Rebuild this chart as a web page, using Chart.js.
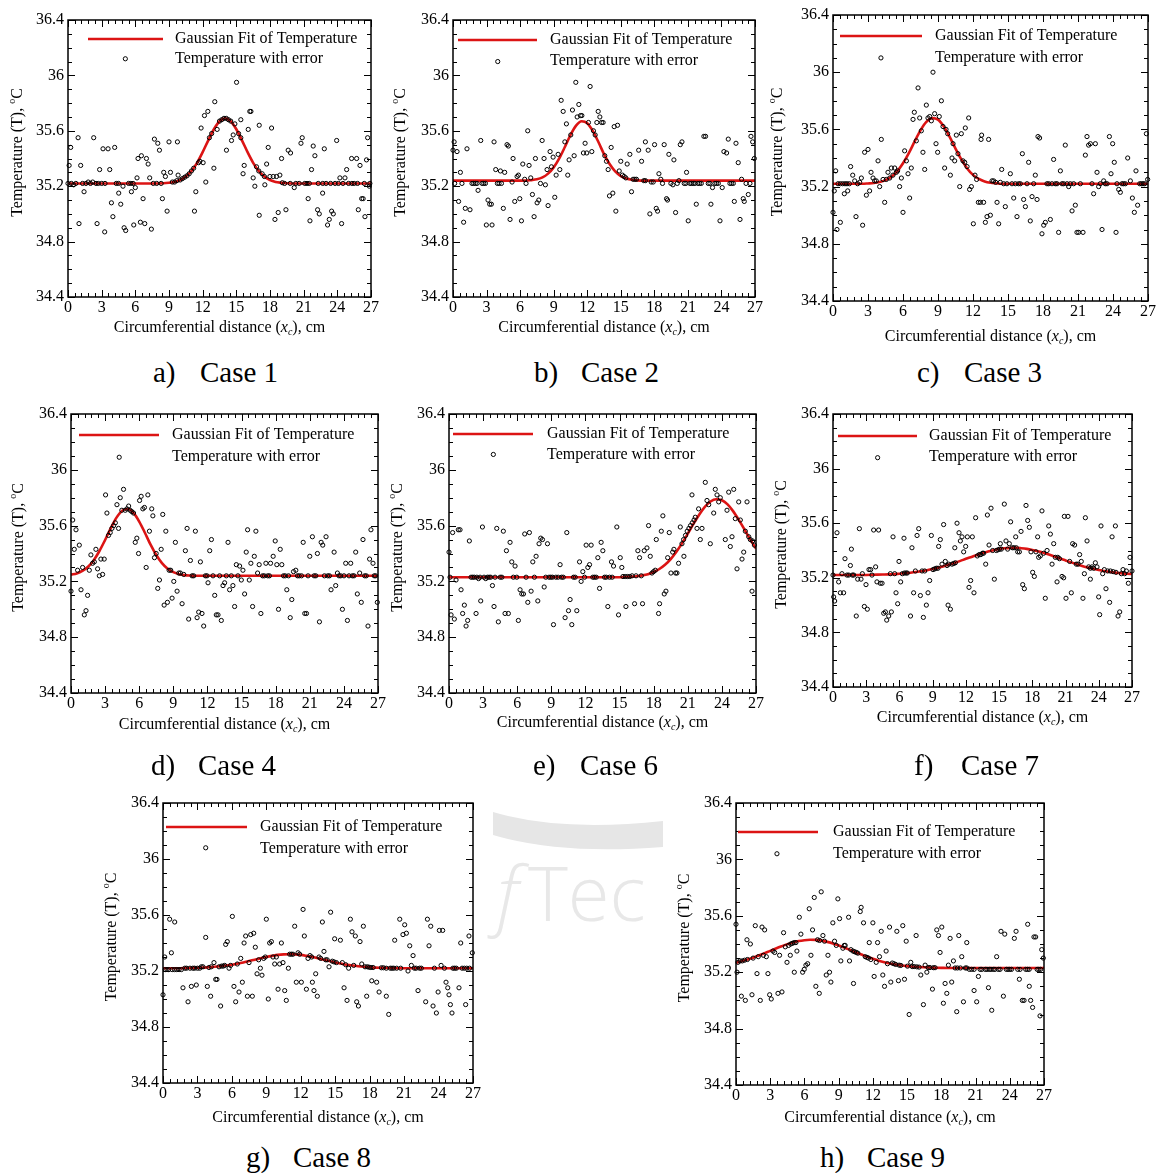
<!DOCTYPE html>
<html>
<head>
<meta charset="utf-8">
<title>Gaussian fit of temperature — cases 1 to 9</title>
<script src="https://cdn.jsdelivr.net/npm/chart.js@4/dist/chart.umd.min.js"></script>
<style>
  html, body { margin: 0; padding: 0; background: #fff; }
  body { width: 1159px; height: 1173px; position: relative; overflow: hidden; font-family: "Liberation Serif", "Times New Roman", serif; }
  canvas { position: absolute; }
  .cap { position: absolute; font-size: 29px; line-height: 36px; white-space: nowrap; color: #000; }
  .cap span { display: inline-block; width: 47px; }
  .wm { position: absolute; left: 0; top: 0; }
</style>
</head>
<body>
<svg class="wm" width="1159" height="1173">
  <path d="M493,812 Q560,832 663,821 L663,847 Q560,855 493,835 Z" fill="#e6e6e6"/>
  <text x="497" y="921" font-family="Open Sans, DejaVu Sans, sans-serif" font-size="76" font-weight="300" fill="#e8e8e8" font-style="italic">f</text>
  <text x="528" y="921" font-family="Open Sans, DejaVu Sans, sans-serif" font-size="76" font-weight="300" fill="#e8e8e8">Tec</text>
  <rect x="663" y="790" width="40" height="160" fill="#fff"/>
</svg>

<script>
// x positions at which the Gaussian fit is tabulated (cm)
const fitX = [0,0.5,1,1.5,2,2.5,3,3.5,4,4.5,5,5.5,6,6.5,7,7.5,8,8.5,9,9.5,10,10.5,11,11.5,12,12.5,13,13.5,14,14.5,15,15.5,16,16.5,17,17.5,18,18.5,19,19.5,20,20.5,21,21.5,22,22.5,23,23.5,24,24.5,25,25.5,26,26.5,27];

// tick labels
const xTicks = [0,3,6,9,12,15,18,21,24,27];
const yTicks = [34.4,34.8,35.2,35.6,36,36.4];

const legendLabels = ['Gaussian Fit of Temperature', 'Temperature with error'];
const captions = ['Case 1','Case 2','Case 3','Case 4','Case 6','Case 7','Case 8','Case 9'];
const captionLetters = ['a)','b)','c)','d)','e)','f)','g)','h)'];

// ---- Case 1 ----
const case1Fit = [35.22,35.22,35.22,35.22,35.22,35.22,35.22,35.22,35.22,35.22,35.22,35.22,35.22,35.22,35.22,35.22,35.22,35.221,35.225,35.231,35.245,35.27,35.31,35.369,35.446,35.531,35.611,35.669,35.69,35.669,35.611,35.531,35.446,35.369,35.31,35.27,35.245,35.231,35.225,35.221,35.22,35.22,35.22,35.22,35.22,35.22,35.22,35.22,35.22,35.22,35.22,35.22,35.22,35.22,35.22];
const case1Points = [[0.1,35.35],[0.24,35.48],[0.9,35.55],[0.98,34.93],[1.13,35.35],[1.43,35.16],[2.29,35.55],[2.59,34.93],[2.82,35.32],[3.12,35.47],[3.27,34.87],[3.57,35.47],[3.72,35.32],[3.87,35.08],[4.0,34.98],[4.16,35.48],[4.52,35.15],[4.7,35.07],[4.9,35.2],[5.0,34.9],[5.11,36.12],[5.14,34.88],[5.65,35.16],[5.86,34.92],[6.0,35.19],[6.15,35.26],[6.24,35.40],[6.45,34.94],[6.54,35.42],[6.69,35.11],[6.84,34.93],[6.99,35.40],[7.14,35.36],[7.28,35.26],[7.43,34.89],[7.7,35.54],[8.0,35.51],[8.15,35.46],[8.41,35.11],[8.53,35.30],[8.68,35.27],[8.83,35.02],[9.0,35.52],[9.13,35.30],[9.75,35.52],[9.81,35.28],[11.27,35.02],[11.39,35.16],[11.63,35.37],[11.75,35.38],[11.86,35.62],[12.04,35.37],[12.16,35.71],[12.28,35.23],[12.46,35.74],[13.0,35.33],[13.08,35.81],[13.29,35.61],[14.12,35.46],[14.57,35.53],[14.72,35.57],[14.87,35.65],[15.02,35.95],[15.4,35.68],[15.6,35.29],[15.7,35.35],[16.06,35.61],[16.2,35.74],[16.3,35.74],[16.5,35.26],[16.65,35.2],[17.04,34.99],[17.04,35.64],[17.54,35.21],[17.7,35.36],[17.84,35.48],[17.99,35.27],[18.14,35.62],[18.29,35.27],[18.44,34.96],[18.58,35.27],[18.73,35.01],[18.88,35.28],[19.03,35.40],[19.42,35.03],[19.62,35.46],[19.83,35.44],[20.16,35.19],[20.76,35.51],[20.87,35.55],[21.4,35.11],[21.56,34.95],[21.7,35.32],[21.85,35.49],[22.0,35.42],[22.24,35.03],[22.39,35.0],[22.69,35.15],[22.84,35.47],[23.13,34.92],[23.28,34.96],[23.49,35.02],[23.64,35.0],[23.94,35.53],[24.23,35.26],[24.38,34.93],[24.68,35.26],[24.83,35.32],[25.27,35.40],[25.72,35.40],[25.87,35.03],[26.02,35.35],[26.17,35.11],[26.3,35.11],[26.46,34.98],[26.6,35.39],[26.7,35.55],[26.85,35.2],
  [0.0,35.22],[0.3,35.22],[0.5,35.21],[0.7,35.22],[1.3,35.22],[1.6,35.22],[1.8,35.23],[2.0,35.22],[2.2,35.23],[2.5,35.22],[2.7,35.22],[3.0,35.22],[3.3,35.22],[4.3,35.22],[4.5,35.22],[5.4,35.22],[5.6,35.22],[5.8,35.22],[7.6,35.22],[7.9,35.22],[8.3,35.22],[9.3,35.23],[9.5,35.23],[9.7,35.24],[10.0,35.245],[10.2,35.255],[10.4,35.265],[10.6,35.275],[10.8,35.29],[11.0,35.31],[11.2,35.33],[12.6,35.55],[12.8,35.58],[13.5,35.67],[13.7,35.68],[13.9,35.69],[14.1,35.69],[14.3,35.68],[14.5,35.67],[15.2,35.58],[15.4,35.55],[16.8,35.34],[17.0,35.31],[17.3,35.29],[17.5,35.27],[19.1,35.225],[19.3,35.22],[19.8,35.22],[20.3,35.22],[20.6,35.22],[21.1,35.22],[21.3,35.22],[21.5,35.22],[22.3,35.22],[22.7,35.22],[23.0,35.22],[23.4,35.22],[23.8,35.22],[24.1,35.22],[24.5,35.22],[25.0,35.22],[25.3,35.22],[25.5,35.22],[25.8,35.22],[26.4,35.22],[26.9,35.22]];

// ---- Case 2 ----
const case2Fit = [35.24,35.24,35.24,35.24,35.24,35.24,35.24,35.24,35.24,35.24,35.24,35.24,35.24,35.24,35.244,35.25,35.264,35.291,35.336,35.401,35.483,35.569,35.637,35.669,35.655,35.599,35.519,35.432,35.36,35.307,35.273,35.255,35.246,35.242,35.24,35.24,35.24,35.24,35.24,35.24,35.24,35.24,35.24,35.24,35.24,35.24,35.24,35.24,35.24,35.24,35.24,35.24,35.24,35.24,35.24];
const case2Points = [[0,35.46],[0.1,35.52],[0.15,35.22],[0.36,35.45],[0.5,35.09],[0.66,35.3],[0.8,35.22],[0.95,34.94],[1.1,35.04],[1.25,35.47],[1.52,35.03],[1.7,35.22],[1.85,35.22],[2.0,35.22],[2.15,35.22],[2.24,35.17],[2.48,35.53],[2.6,35.22],[2.75,35.22],[2.9,35.22],[2.98,34.92],[3.13,35.1],[3.28,35.07],[3.43,35.07],[3.49,34.92],[3.67,35.52],[3.82,35.32],[3.97,35.22],[4.12,35.22],[4.33,35.22],[4.0,36.1],[4.24,35.31],[4.5,35.04],[4.62,35.3],[4.83,35.5],[4.95,35.49],[5.1,34.96],[5.28,35.23],[5.37,35.4],[5.52,35.09],[5.73,35.27],[5.85,35.28],[5.97,35.11],[6.12,34.95],[6.24,35.36],[6.41,35.25],[6.53,35.22],[6.68,35.6],[6.8,35.35],[6.95,35.26],[7.1,35.14],[7.25,34.98],[7.37,35.4],[7.52,35.08],[7.67,35.1],[7.82,35.22],[7.97,35.53],[8.14,35.4],[8.26,35.21],[8.41,35.32],[8.5,35.06],[8.68,35.45],[8.8,35.34],[8.95,35.41],[9.1,35.12],[9.22,35.28],[9.4,35.43],[9.55,35.32],[9.67,35.82],[9.85,35.74],[10.0,35.52],[10.14,35.65],[10.26,35.28],[10.38,35.39],[10.53,35.57],[10.68,35.75],[10.83,35.42],[10.98,35.95],[11.1,35.7],[11.25,35.79],[11.4,35.71],[11.52,35.71],[11.66,35.44],[11.81,35.51],[11.96,35.44],[12.11,35.66],[12.26,35.92],[12.41,35.45],[12.56,35.6],[12.71,35.57],[12.86,35.66],[12.98,35.74],[13.13,35.7],[13.28,35.66],[13.42,35.66],[13.57,35.42],[13.72,35.38],[13.87,35.32],[13.99,35.13],[14.14,35.48],[14.29,35.15],[14.41,35.63],[14.56,35.02],[14.71,35.64],[14.86,35.31],[15.0,35.38],[15.15,35.28],[15.3,35.27],[15.45,35.26],[15.57,35.36],[15.81,35.43],[15.96,35.16],[16.1,35.25],[16.26,35.25],[16.4,35.25],[16.6,35.46],[16.86,35.38],[17.06,35.24],[17.2,35.24],[17.2,35.52],[17.45,35.46],[17.6,35.0],[17.72,35.23],[17.9,35.23],[18.02,35.5],[18.17,35.04],[18.29,35.02],[18.41,35.29],[18.58,35.25],[18.73,35.22],[18.88,35.5],[19.09,35.11],[19.18,35.1],[19.3,35.43],[19.48,35.22],[19.66,35.21],[19.75,35.39],[19.9,35.01],[20.05,35.22],[20.2,35.24],[20.32,35.5],[20.47,35.52],[20.67,35.22],[20.82,35.22],[20.88,35.3],[21.03,34.95],[21.18,35.22],[21.33,35.22],[21.48,35.22],[21.62,35.22],[21.75,35.07],[21.9,35.22],[22.05,35.22],[22.2,35.22],[22.43,35.56],[22.58,35.56],[22.82,35.22],[22.97,35.22],[23.06,35.07],[23.2,35.19],[23.42,35.22],[23.57,35.22],[23.72,35.22],[23.87,34.95],[24.07,35.19],[24.22,35.45],[24.46,35.44],[24.61,35.54],[24.76,35.22],[24.91,35.22],[25.06,35.22],[25.15,35.09],[25.3,35.51],[25.5,35.37],[25.66,34.96],[25.8,35.25],[25.95,35.11],[26.04,35.09],[26.2,35.22],[26.4,35.14],[26.55,35.22],[26.64,35.56],[26.79,35.52],[26.94,35.4]];

// ---- Case 3 ----
const case3Fit = [35.22,35.22,35.22,35.22,35.22,35.22,35.222,35.225,35.232,35.245,35.269,35.307,35.363,35.434,35.516,35.593,35.652,35.679,35.668,35.62,35.548,35.466,35.39,35.327,35.282,35.254,35.236,35.227,35.223,35.22,35.22,35.22,35.22,35.22,35.22,35.22,35.22,35.22,35.22,35.22,35.22,35.22,35.22,35.22,35.22,35.22,35.22,35.22,35.22,35.22,35.22,35.22,35.22,35.22,35.22];
const case3Points = [[0,35.02],[0.11,35.17],[0.23,35.31],[0.34,34.9],[0.43,35.22],[0.63,34.95],[0.63,35.22],[0.83,35.22],[1.03,35.22],[1.2,35.22],[1.4,35.22],[0.97,35.15],[1.26,35.17],[1.51,35.34],[1.69,35.28],[1.86,35.24],[1.97,34.99],[2.11,35.22],[2.29,35.23],[2.43,35.26],[2.54,34.93],[2.71,35.44],[2.86,35.14],[3.0,35.46],[3.14,35.17],[3.26,35.3],[3.43,35.26],[3.57,35.24],[3.71,35.24],[3.86,35.38],[4.0,35.2],[4.11,36.1],[4.14,35.53],[4.29,35.25],[4.43,35.09],[4.57,35.25],[4.71,35.3],[4.86,35.26],[5.0,35.33],[5.14,35.28],[5.29,35.33],[5.43,35.3],[5.54,35.31],[5.71,35.2],[5.86,35.26],[6.0,35.02],[6.14,35.45],[6.29,35.38],[6.43,35.29],[6.57,35.12],[6.71,35.33],[6.86,35.67],[6.97,35.72],[7.14,35.52],[7.29,35.89],[7.43,35.68],[7.57,35.59],[7.71,35.44],[7.86,35.32],[8.0,35.77],[8.14,35.68],[8.29,35.69],[8.43,35.66],[8.57,36.0],[8.71,35.71],[8.83,35.5],[8.97,35.44],[9.11,35.69],[9.29,35.8],[9.43,35.62],[9.57,35.33],[9.69,35.6],[9.83,35.57],[10.06,35.28],[10.2,35.4],[10.29,35.5],[10.43,35.38],[10.57,35.56],[10.71,35.43],[10.86,35.2],[11.0,35.57],[11.14,35.38],[11.29,35.37],[11.34,35.61],[11.49,35.34],[11.63,35.68],[11.71,35.18],[11.86,35.2],[12.03,34.94],[12.17,35.28],[12.31,35.25],[12.46,35.09],[12.63,35.09],[12.69,35.53],[12.74,35.56],[12.91,35.09],[13.06,34.95],[13.2,34.99],[13.34,35.53],[13.49,35.0],[13.63,35.24],[13.77,35.24],[13.94,35.23],[14.06,35.09],[14.2,34.94],[14.34,35.23],[14.46,35.32],[14.63,35.22],[14.77,35.06],[14.91,35.22],[15.2,35.29],[15.34,35.22],[15.49,35.12],[15.63,35.22],[15.77,34.99],[15.91,35.22],[16.06,35.22],[16.23,35.43],[16.34,35.11],[16.49,35.06],[16.63,35.22],[16.77,35.37],[16.91,34.96],[17.06,35.13],[17.2,35.22],[17.34,35.28],[17.49,35.11],[17.57,35.55],[17.71,35.54],[17.91,34.87],[18.06,34.93],[18.2,34.95],[18.34,35.22],[18.49,35.22],[18.63,34.97],[18.77,35.22],[18.91,35.39],[19.06,35.22],[19.2,35.22],[19.34,34.88],[19.49,35.31],[19.63,35.22],[19.77,35.22],[19.91,35.49],[20.06,35.22],[20.2,35.2],[20.34,35.22],[20.49,35.03],[20.63,35.22],[20.77,35.07],[20.91,34.88],[21.06,34.88],[21.2,35.22],[21.43,34.88],[21.63,35.42],[21.77,35.55],[21.91,35.49],[22.06,35.5],[22.2,35.22],[22.34,35.15],[22.49,35.5],[22.63,35.3],[22.77,35.2],[22.91,35.22],[23.06,34.9],[23.2,35.24],[23.34,35.22],[23.49,35.22],[23.69,35.55],[23.83,35.29],[23.97,35.5],[24.11,35.37],[24.26,34.88],[24.34,35.22],[24.49,35.18],[24.63,35.16],[24.77,35.22],[24.91,35.22],[25.06,35.22],[25.26,35.4],[25.49,35.24],[25.66,35.12],[25.83,35.02],[25.97,35.31],[26.11,35.07],[26.29,35.22],[26.43,35.22],[26.57,35.22],[26.71,35.22],[26.86,35.57],[26.97,35.25]];

// ---- Case 4 ----
const case4Fit = [35.248,35.257,35.275,35.305,35.352,35.418,35.497,35.582,35.657,35.707,35.719,35.691,35.629,35.549,35.463,35.389,35.331,35.291,35.266,35.252,35.245,35.242,35.24,35.24,35.24,35.24,35.24,35.24,35.24,35.24,35.24,35.24,35.24,35.24,35.24,35.24,35.24,35.24,35.24,35.24,35.24,35.24,35.24,35.24,35.24,35.24,35.24,35.24,35.24,35.24,35.24,35.24,35.24,35.24,35.24];
const case4Points = [[0,35.13],[0.15,35.64],[0.29,35.43],[0.44,35.57],[0.58,35.28],[0.73,35.46],[0.88,35.14],[1.02,35.3],[1.17,34.96],[1.32,34.99],[1.46,35.1],[1.61,35.28],[1.75,35.39],[1.9,35.33],[2.05,35.34],[2.19,35.43],[2.34,35.29],[2.49,35.24],[2.63,35.36],[2.78,35.25],[2.92,35.36],[3.04,35.82],[3.16,35.69],[3.3,35.53],[3.45,35.55],[3.6,35.58],[3.75,35.6],[3.9,35.62],[4.04,35.75],[4.18,35.58],[4.24,36.09],[4.33,35.8],[4.47,35.71],[4.62,35.86],[4.77,35.71],[4.92,35.72],[5.07,35.74],[5.2,35.71],[5.35,35.7],[5.5,35.69],[5.65,35.48],[5.79,35.51],[5.94,35.4],[6.03,35.78],[6.17,35.81],[6.32,35.72],[6.46,35.73],[6.61,35.3],[6.76,35.82],[6.9,35.56],[7.1,35.72],[7.2,35.67],[7.34,35.37],[7.49,35.4],[7.63,35.15],[7.78,35.21],[7.93,35.43],[8.07,35.68],[8.19,35.03],[8.34,35.56],[8.48,35.05],[8.63,35.28],[8.77,35.28],[8.89,35.08],[9.04,35.2],[9.18,35.48],[9.33,35.13],[9.48,35.26],[9.62,35.26],[9.77,35.04],[9.92,35.25],[10.06,35.42],[10.21,35.58],[10.35,34.93],[10.5,35.35],[10.65,35.24],[10.79,35.24],[10.94,35.56],[11.09,34.94],[11.23,34.98],[11.38,35.34],[11.52,34.97],[11.67,34.88],[11.82,35.24],[11.96,35.24],[12.05,35.19],[12.2,35.42],[12.35,35.5],[12.49,35.24],[12.64,35.1],[12.78,34.96],[12.93,34.96],[13.07,35.24],[13.22,34.92],[13.37,35.17],[13.51,35.19],[13.66,35.24],[13.81,35.48],[13.95,35.14],[14.1,35.24],[14.24,35.17],[14.39,35.02],[14.54,35.32],[14.68,35.24],[14.83,35.31],[14.98,35.21],[15.12,35.28],[15.27,35.11],[15.41,35.41],[15.53,35.57],[15.68,35.21],[15.82,35.33],[15.97,35.02],[16.12,35.38],[16.26,35.56],[16.41,35.26],[16.55,35.32],[16.7,34.97],[16.85,35.24],[17.0,35.24],[17.14,35.33],[17.3,35.24],[17.45,35.24],[17.55,35.33],[17.78,35.38],[17.96,35.49],[18.1,35.32],[18.25,35.0],[18.4,35.43],[18.54,35.32],[18.69,35.24],[18.84,35.24],[18.98,35.14],[19.13,35.24],[19.28,34.94],[19.42,35.07],[19.57,35.27],[19.77,35.28],[19.92,35.24],[20.07,35.24],[20.27,35.24],[20.42,35.48],[20.56,34.97],[20.71,34.97],[20.85,35.24],[21.0,35.38],[21.23,35.52],[21.38,35.24],[21.53,35.24],[21.67,35.4],[21.85,34.91],[22.0,35.48],[22.14,35.46],[22.29,35.24],[22.43,35.52],[22.58,35.24],[22.73,35.24],[22.87,35.14],[23.14,35.41],[23.28,35.17],[23.43,35.26],[23.57,35.24],[23.72,35.24],[23.87,35.0],[24.01,35.24],[24.16,35.33],[24.31,34.92],[24.45,35.24],[24.6,35.33],[24.75,35.24],[24.89,35.24],[25.04,35.41],[25.18,35.11],[25.39,35.26],[25.53,35.05],[25.68,35.5],[25.83,35.24],[25.97,35.24],[26.12,34.88],[26.26,35.36],[26.38,35.57],[26.56,35.33],[26.67,35.24],[26.79,35.24],[26.94,35.05]];

// ---- Case 6 ----
const case6Fit = [35.23,35.23,35.23,35.23,35.23,35.23,35.23,35.23,35.23,35.23,35.23,35.23,35.23,35.23,35.23,35.23,35.23,35.23,35.23,35.23,35.23,35.23,35.23,35.23,35.23,35.23,35.23,35.23,35.23,35.23,35.23,35.232,35.234,35.237,35.243,35.252,35.267,35.289,35.319,35.36,35.412,35.474,35.542,35.612,35.678,35.734,35.773,35.789,35.782,35.752,35.702,35.639,35.57,35.5,35.435];
const case6Points = [[0,35.41],[0.09,35.23],[0.18,34.96],[0.32,35.55],[0.47,34.93],[0.62,35.21],[0.82,35.57],[0.97,35.57],[1.06,35.14],[1.2,34.97],[1.35,35.03],[1.5,34.88],[1.64,34.92],[1.79,35.49],[1.94,35.23],[2.09,35.23],[2.23,35.23],[2.38,34.97],[2.45,35.23],[2.6,35.22],[2.73,35.23],[2.79,35.06],[2.94,35.59],[3.08,35.23],[3.23,35.22],[3.38,35.23],[3.53,35.23],[3.67,35.23],[3.82,35.17],[3.9,36.11],[3.96,35.02],[4.05,35.23],[4.2,35.58],[4.34,34.91],[4.5,35.23],[4.65,35.23],[4.78,35.56],[4.93,34.97],[5.05,35.42],[5.22,34.97],[5.37,35.48],[5.52,35.34],[5.66,35.23],[5.81,35.31],[5.96,35.23],[6.1,34.92],[6.25,35.14],[6.4,35.11],[6.55,35.11],[6.66,35.54],[6.78,35.23],[6.93,35.05],[7.07,35.55],[7.22,35.13],[7.37,35.34],[7.51,35.23],[7.66,35.38],[7.81,35.06],[7.92,35.47],[8.07,35.51],[8.22,35.5],[8.37,35.16],[8.51,35.23],[8.66,35.47],[8.8,35.23],[8.95,35.23],[9.1,35.23],[9.19,34.89],[9.4,35.23],[9.6,35.23],[9.77,35.32],[9.9,35.23],[10.05,35.23],[10.21,34.94],[10.36,35.55],[10.51,34.99],[10.65,35.07],[10.8,34.89],[10.95,35.23],[11.1,35.23],[11.24,34.99],[11.48,35.34],[11.62,35.2],[11.77,35.27],[11.92,35.23],[12.06,35.46],[12.21,35.3],[12.36,35.32],[12.5,35.46],[12.65,35.23],[12.8,35.23],[12.95,35.23],[13.09,35.37],[13.24,35.15],[13.38,35.48],[13.53,35.42],[13.68,35.23],[13.83,35.23],[13.97,35.02],[14.12,35.23],[14.29,35.34],[14.35,35.23],[14.47,35.31],[14.76,35.59],[14.91,34.96],[15.06,35.37],[15.2,35.3],[15.3,35.235],[15.5,35.235],[15.56,35.02],[15.7,35.235],[15.9,35.235],[16.1,35.24],[16.32,35.04],[16.45,35.24],[16.61,35.42],[16.76,35.37],[16.91,35.24],[17.02,35.04],[17.17,35.42],[17.41,35.44],[17.55,35.6],[17.7,35.38],[17.85,35.26],[17.99,35.27],[18.14,35.28],[18.23,35.5],[18.43,34.97],[18.52,35.04],[18.67,35.56],[18.81,35.67],[18.93,35.11],[19.08,35.13],[19.23,35.37],[19.37,35.55],[19.52,35.26],[19.67,35.41],[19.78,35.43],[19.93,35.26],[20.05,35.26],[20.19,35.33],[20.34,35.59],[20.49,35.47],[20.63,35.5],[20.66,35.38],[20.8,35.53],[20.95,35.56],[21.1,35.58],[21.24,35.6],[21.37,35.82],[21.4,35.62],[21.55,35.64],[21.66,35.66],[21.81,35.58],[21.95,35.72],[22.1,35.5],[22.25,35.58],[22.34,36.07],[22.54,35.91],[22.69,35.78],[22.84,35.75],[22.98,35.47],[23.13,36.08],[23.28,35.69],[23.42,35.86],[23.57,35.82],[23.72,35.77],[23.86,35.8],[24.0,36.08],[24.15,36.08],[24.3,35.5],[24.45,35.71],[24.6,35.84],[24.74,35.45],[24.89,35.52],[25.04,35.86],[25.18,35.65],[25.33,35.29],[25.48,35.77],[25.62,35.64],[25.77,35.36],[25.92,35.41],[26.06,35.56],[26.21,35.77],[26.36,35.52],[26.5,35.5],[26.65,35.13],[26.7,35.49],[26.86,35.46]];

// ---- Case 7 ----
const case7Fit = [35.22,35.22,35.22,35.22,35.22,35.22,35.221,35.222,35.223,35.224,35.225,35.227,35.23,35.233,35.237,35.242,35.248,35.256,35.264,35.274,35.285,35.297,35.31,35.324,35.339,35.353,35.367,35.38,35.392,35.402,35.411,35.416,35.419,35.42,35.417,35.412,35.404,35.394,35.383,35.37,35.356,35.341,35.327,35.313,35.3,35.287,35.276,35.266,35.257,35.25,35.243,35.238,35.234,35.23,35.228];
const case7Points = [[0,35.22],[0.06,35.06],[0.15,35.03],[0.36,35.53],[0.51,35.17],[0.66,35.09],[0.81,35.23],[0.96,35.09],[1.08,35.34],[1.26,35.22],[1.42,35.22],[1.57,35.29],[1.66,35.41],[1.75,35.22],[1.87,35.22],[2.1,34.92],[2.23,35.19],[2.38,35.56],[2.53,35.19],[2.65,35.23],[2.83,34.99],[2.98,35.15],[3.1,34.97],[3.25,35.26],[3.4,35.26],[3.52,35.22],[3.67,35.55],[3.85,35.28],[3.97,35.17],[4.03,36.08],[4.12,35.55],[4.27,35.16],[4.43,35.16],[4.58,34.94],[4.73,34.95],[4.85,34.89],[5.03,34.92],[5.18,35.23],[5.27,34.95],[5.42,35.5],[5.57,35.23],[5.69,35.09],[5.84,35.01],[5.96,35.32],[6.11,35.17],[6.26,35.23],[6.41,35.49],[6.45,35.235],[6.6,35.235],[6.71,35.235],[7.0,34.92],[7.13,35.42],[7.28,35.09],[7.44,35.25],[7.59,35.51],[7.74,35.56],[7.89,35.07],[8.04,35.25],[8.16,34.91],[8.28,35.25],[8.43,35.0],[8.58,35.09],[8.73,35.18],[8.88,35.51],[9.03,35.26],[9.18,35.265],[9.33,35.27],[9.48,35.27],[9.54,35.43],[9.69,35.48],[9.84,35.3],[9.99,35.59],[10.14,35.32],[10.3,35.29],[10.39,35.0],[10.45,35.3],[10.6,34.97],[10.75,35.3],[10.9,35.305],[11.0,35.42],[11.05,35.31],[11.2,35.6],[11.38,35.53],[11.5,35.47],[11.65,35.5],[11.8,35.39],[11.98,35.43],[12.13,35.5],[12.28,35.13],[12.43,35.18],[12.58,35.5],[12.73,35.09],[12.88,35.64],[13.03,35.36],[13.2,35.37],[13.35,35.37],[13.5,35.38],[13.6,35.38],[13.79,35.3],[13.94,35.66],[14.09,35.44],[14.27,35.71],[14.42,35.4],[14.57,35.19],[14.75,35.4],[14.9,35.405],[15.05,35.41],[15.11,35.45],[15.2,35.41],[15.47,35.74],[15.62,35.47],[15.77,35.41],[15.92,35.45],[16.04,35.61],[16.2,35.42],[16.35,35.42],[16.5,35.5],[16.55,35.42],[16.68,35.39],[16.83,35.39],[16.98,35.54],[17.13,35.15],[17.28,35.12],[17.43,35.73],[17.58,35.62],[17.73,35.57],[17.88,35.39],[18.03,35.24],[18.18,35.21],[18.33,35.39],[18.48,35.5],[18.57,35.35],[18.72,35.36],[18.87,35.69],[19.02,35.38],[19.17,35.05],[19.33,35.4],[19.48,35.58],[19.63,35.52],[19.78,35.3],[19.93,35.45],[20.08,35.35],[20.23,35.17],[20.3,35.35],[20.45,35.34],[20.68,35.21],[20.83,35.2],[20.89,35.65],[21.04,35.05],[21.22,35.65],[21.37,35.32],[21.52,35.09],[21.64,35.45],[21.82,35.44],[21.97,35.3],[22.12,35.3],[22.27,35.37],[22.42,35.32],[22.57,35.05],[22.7,35.23],[22.79,35.64],[22.94,35.47],[23.09,35.28],[23.24,35.27],[23.24,35.19],[23.39,35.28],[23.54,35.27],[23.69,35.31],[23.84,35.28],[23.99,35.06],[24.08,34.93],[24.2,35.58],[24.35,35.23],[24.5,35.26],[24.65,35.12],[24.8,35.25],[24.98,35.02],[25.05,35.25],[25.2,35.5],[25.3,35.245],[25.5,35.58],[25.55,35.24],[25.74,34.92],[25.89,34.95],[26.04,35.23],[26.19,35.26],[26.34,35.23],[26.49,35.25],[26.67,35.16],[26.82,35.35],[27,35.25]];

// ---- Case 8 ----
const case8Fit = [35.22,35.22,35.22,35.22,35.221,35.222,35.223,35.224,35.227,35.23,35.234,35.239,35.245,35.253,35.261,35.271,35.281,35.291,35.3,35.308,35.315,35.319,35.32,35.319,35.315,35.308,35.3,35.291,35.281,35.271,35.261,35.253,35.245,35.239,35.234,35.23,35.227,35.224,35.223,35.222,35.221,35.22,35.22,35.22,35.22,35.22,35.22,35.22,35.22,35.22,35.22,35.22,35.22,35.22,35.22];
const case8Points = [[0,35.03],[0.15,35.3],[0.2,35.21],[0.35,35.21],[0.5,35.21],[0.58,35.57],[0.73,35.33],[0.8,35.21],[1.02,35.55],[1.0,35.21],[1.2,35.21],[1.4,35.21],[1.6,35.21],[1.74,35.08],[1.9,35.22],[2.05,35.22],[2.18,34.98],[2.35,35.22],[2.47,35.09],[2.6,35.22],[2.75,35.22],[2.9,35.1],[3.0,35.22],[3.2,35.22],[3.34,35.23],[3.48,35.23],[3.72,35.44],[3.72,36.08],[3.86,35.09],[4.0,35.225],[4.15,35.02],[4.2,35.23],[4.44,35.26],[4.59,35.14],[4.7,35.14],[4.88,35.23],[5.02,34.95],[5.1,35.235],[5.25,35.235],[5.37,35.24],[5.46,35.39],[5.6,35.41],[5.75,35.22],[5.89,35.24],[6.04,35.59],[6.18,35.09],[6.33,34.98],[6.47,35.25],[6.62,35.05],[6.77,35.29],[6.91,35.12],[7.06,35.4],[7.2,35.45],[7.35,35.02],[7.49,35.26],[7.64,35.46],[7.78,35.02],[7.9,35.47],[8.04,35.37],[8.19,35.18],[8.33,35.28],[8.48,35.22],[8.62,35.17],[8.77,35.29],[8.91,35.3],[9.0,35.57],[9.17,35.0],[9.29,35.4],[9.44,35.41],[9.58,35.3],[9.73,35.25],[9.87,35.3],[10.02,35.07],[10.16,35.25],[10.31,35.4],[10.45,35.26],[10.6,35.06],[10.74,34.99],[10.92,35.22],[11.03,35.32],[11.18,35.32],[11.32,35.32],[11.47,35.52],[11.61,35.12],[11.76,35.33],[11.9,35.32],[12.05,35.12],[12.2,35.64],[12.31,35.45],[12.49,35.07],[12.63,35.29],[12.8,35.31],[12.95,35.3],[13.01,35.12],[13.15,35.06],[13.3,35.18],[13.44,35.02],[13.59,35.3],[13.73,35.29],[13.88,35.55],[14.02,35.34],[14.17,35.28],[14.3,35.28],[14.46,35.23],[14.6,35.62],[14.75,35.27],[14.9,35.265],[14.95,35.43],[15.1,35.26],[15.45,35.42],[15.62,35.26],[15.77,35.08],[15.91,35.245],[16.03,34.99],[16.17,35.22],[16.32,35.57],[16.46,35.48],[16.61,35.24],[16.75,35.45],[16.87,34.98],[17.02,34.95],[17.16,35.41],[17.31,35.25],[17.45,35.52],[17.6,35.23],[17.74,35.02],[17.8,35.23],[17.95,35.227],[18.1,35.225],[18.18,35.13],[18.3,35.225],[18.61,35.12],[18.82,35.05],[19.02,35.223],[19.2,35.223],[19.45,35.22],[19.45,35.02],[19.66,34.89],[19.8,35.22],[19.95,35.22],[20.1,35.22],[20.18,35.42],[20.35,35.22],[20.62,35.57],[20.7,35.22],[20.9,35.46],[21.05,35.53],[21.2,35.47],[21.34,35.2],[21.49,35.38],[21.63,35.24],[21.78,35.31],[21.9,35.22],[22.05,35.22],[22.21,35.06],[22.35,35.22],[22.5,35.22],[22.88,34.98],[23.03,35.57],[23.17,35.38],[23.32,35.52],[23.52,34.95],[23.64,35.22],[23.81,34.9],[23.96,35.05],[24.07,35.49],[24.22,35.24],[24.36,35.49],[24.51,35.22],[24.65,35.12],[24.8,35.08],[24.91,35.03],[25.03,34.96],[25.17,34.9],[25.25,35.22],[25.4,35.22],[25.55,35.22],[25.78,35.08],[25.93,35.4],[26.05,35.22],[26.25,35.22],[26.36,34.96],[26.45,35.22],[26.65,35.45],[26.7,35.22],[26.94,35.33]];

// ---- Case 9 ----
const case9Fit = [35.267,35.278,35.29,35.303,35.318,35.335,35.351,35.368,35.384,35.399,35.411,35.421,35.427,35.43,35.429,35.424,35.415,35.404,35.39,35.375,35.358,35.341,35.325,35.309,35.295,35.282,35.271,35.262,35.254,35.248,35.243,35.239,35.237,35.235,35.233,35.232,35.231,35.23,35.23,35.23,35.23,35.23,35.23,35.23,35.23,35.23,35.23,35.23,35.23,35.23,35.23,35.23,35.23,35.23,35.23];
const case9Points = [[0,35.54],[0.09,35.2],[0.17,35.27],[0.35,35.28],[0.55,35.28],[0.75,35.285],[1.0,35.29],[0.47,35.03],[0.82,35.0],[0.96,35.43],[1.26,35.4],[1.4,35.04],[1.5,35.3],[1.69,35.53],[1.84,35.19],[1.95,35.31],[2.13,35.0],[2.28,35.52],[2.4,35.32],[2.51,35.5],[2.66,35.31],[2.8,35.19],[2.95,35.04],[3.09,35.01],[3.24,35.35],[3.39,35.34],[3.59,36.04],[3.68,35.05],[3.82,35.32],[4.03,35.06],[4.17,35.48],[4.32,35.38],[4.47,35.27],[4.61,35.39],[4.76,35.32],[4.8,35.4],[4.95,35.405],[5.11,35.2],[5.1,35.41],[5.25,35.41],[5.34,35.35],[5.55,35.59],[5.69,35.47],[5.84,35.2],[5.98,35.22],[6.13,35.25],[6.28,35.26],[6.42,35.65],[6.57,35.32],[6.71,35.5],[6.86,35.73],[7.0,35.1],[7.15,35.43],[7.3,35.05],[7.33,35.425],[7.47,35.77],[7.62,35.46],[7.76,35.42],[7.91,35.18],[8.06,35.32],[8.2,35.2],[8.32,35.13],[8.49,35.55],[8.64,35.42],[8.79,35.39],[8.93,35.72],[9.08,35.58],[9.19,35.28],[9.37,35.37],[9.49,35.39],[9.57,35.39],[9.87,35.59],[9.95,35.28],[10.07,35.36],[10.25,35.35],[10.3,35.12],[10.4,35.345],[10.55,35.34],[10.68,35.335],[10.89,35.63],[10.97,35.66],[11.18,35.55],[11.33,35.31],[11.48,35.305],[11.62,35.3],[11.68,35.41],[11.82,35.29],[12.0,35.55],[12.11,35.17],[12.29,35.27],[12.41,35.41],[12.58,35.31],[12.73,35.49],[12.87,35.18],[13.02,35.1],[13.16,35.35],[13.28,35.26],[13.46,35.52],[13.57,35.13],[13.7,35.265],[13.85,35.26],[14.0,35.255],[14.1,35.49],[14.24,35.14],[14.3,35.25],[14.45,35.248],[14.62,35.53],[14.77,35.15],[14.92,35.42],[15.03,35.243],[15.18,34.9],[15.32,35.27],[15.45,35.24],[15.62,35.24],[15.79,35.46],[15.85,35.238],[16.05,35.236],[16.2,35.18],[16.43,34.97],[16.58,35.25],[16.73,35.2],[16.85,35.233],[17.0,35.233],[17.22,35.08],[17.3,35.232],[17.45,35.232],[17.6,35.5],[17.75,35.46],[17.89,35.34],[18.04,35.52],[18.18,34.98],[18.33,35.12],[18.48,35.05],[18.62,35.25],[18.77,35.44],[18.91,35.13],[19.06,35.28],[19.21,35.23],[19.35,34.92],[19.41,35.23],[19.53,35.46],[19.67,35.23],[19.79,35.31],[19.94,34.99],[20.11,35.23],[20.23,35.23],[20.23,35.41],[20.46,35.22],[20.66,35.22],[20.87,35.22],[20.87,35.07],[21.1,34.99],[21.25,35.17],[21.4,35.22],[21.55,35.22],[21.85,35.22],[22.0,35.22],[22.13,35.09],[22.2,35.22],[22.35,35.22],[22.42,34.93],[22.55,35.22],[22.7,35.22],[22.85,35.31],[23.0,35.22],[23.15,35.22],[23.23,35.49],[23.44,35.03],[23.56,35.47],[23.7,35.22],[23.85,35.22],[24.0,35.22],[24.15,35.22],[24.4,35.44],[24.55,35.49],[24.7,35.22],[24.84,35.15],[24.9,35.22],[25.1,35.0],[25.25,35.0],[25.4,35.22],[25.55,35.22],[25.57,35.54],[25.71,35.1],[25.7,35.22],[25.83,35.0],[26.0,34.95],[26.12,35.45],[26.27,35.45],[26.4,35.22],[26.55,35.22],[26.65,34.89],[26.7,35.22],[26.8,35.36],[26.94,35.3]];

// ---- page layout: plot-area box of each panel and decoration offsets ----
const panels = [
  { pts: case1Points, fit: case1Fit, box: [68, 20, 371, 297],  leg: [20, 95, 107, 19, 20], xtDy: 31, ytDx: -50 },
  { pts: case2Points, fit: case2Fit, box: [453, 20, 755, 297], leg: [5, 84, 97, 20, 21],   xtDy: 31, ytDx: -52 },
  { pts: case3Points, fit: case3Fit, box: [833, 15, 1148, 301], leg: [7, 89, 102, 21, 22], xtDy: 36, ytDx: -55 },
  { pts: case4Points, fit: case4Fit, box: [71, 414, 378, 693],  leg: [8, 88, 101, 21, 22], xtDy: 32, ytDx: -52 },
  { pts: case6Points, fit: case6Fit, box: [449, 414, 756, 693], leg: [4, 84, 98, 20, 21],  xtDy: 30, ytDx: -51 },
  { pts: case7Points, fit: case7Fit, box: [833, 414, 1132, 687], leg: [5, 84, 96, 22, 21], xtDy: 31, ytDx: -51 },
  { pts: case8Points, fit: case8Fit, box: [163, 803, 473, 1083], leg: [3, 84, 97, 24, 22], xtDy: 35, ytDx: -51 },
  { pts: case9Points, fit: case9Fit, box: [736, 803, 1044, 1085], leg: [2, 82, 97, 29, 22], xtDy: 33, ytDx: -51 }
];
const captionPos = [[153, 373], [534, 373], [917, 373], [151, 766], [533, 766], [914, 766], [246, 1158], [820, 1158]];

const FONT = "'Liberation Serif', 'Times New Roman', serif";
const RED = '#dc1414';
Chart.defaults.font.family = FONT;
Chart.defaults.color = '#000';

// draws a run of text pieces [text, font, dy] starting at x
function drawRuns(ctx, runs, x, y) {
  let cx = x;
  for (const [t, f, dy] of runs) {
    ctx.font = f;
    ctx.fillText(t, cx, y + dy);
    cx += ctx.measureText(t).width;
  }
}
function runsWidth(ctx, runs) {
  let w = 0;
  for (const [t, f] of runs) { ctx.font = f; w += ctx.measureText(t).width; }
  return w;
}

// frame with inward ticks on all sides, legend and axis titles
const panelDecor = {
  id: 'panelDecor',
  afterDatasetsDraw(chart, args, o) {
    const { ctx, chartArea: a, scales: { x, y } } = chart;
    ctx.save();
    ctx.strokeStyle = '#000';
    ctx.lineWidth = 1;
    ctx.beginPath();
    for (let k = 0; k <= 45; k++) {
      const px = Math.round(x.getPixelForValue(k * 0.6)) + 0.5;
      const len = (k % 5 === 0) ? 7 : 4;
      ctx.moveTo(px, a.bottom); ctx.lineTo(px, a.bottom - len);
      ctx.moveTo(px, a.top); ctx.lineTo(px, a.top + len);
    }
    for (let k = 0; k <= 20; k++) {
      const py = Math.round(y.getPixelForValue(34.4 + k * 0.1)) + 0.5;
      const len = (k % 4 === 0) ? 7 : 4;
      ctx.moveTo(a.left, py); ctx.lineTo(a.left + len, py);
      ctx.moveTo(a.right, py); ctx.lineTo(a.right - len, py);
    }
    ctx.stroke();
    ctx.lineWidth = 1.5;
    ctx.strokeRect(a.left, a.top, a.right - a.left, a.bottom - a.top);

    // legend
    const [lx0, lx1, tx, ly, gap] = o.leg;
    ctx.font = '16px ' + FONT;
    const tw = Math.max(ctx.measureText(legendLabels[0]).width, ctx.measureText(legendLabels[1]).width);
    ctx.fillStyle = '#fff';
    ctx.fillRect(a.left + tx - 3, a.top + ly - 9, tw + 5, gap + 18);
    ctx.strokeStyle = RED;
    ctx.lineWidth = 2.4;
    ctx.beginPath();
    ctx.moveTo(a.left + lx0, a.top + ly);
    ctx.lineTo(a.left + lx1, a.top + ly);
    ctx.stroke();
    ctx.fillStyle = '#000';
    ctx.textBaseline = 'middle';
    ctx.textAlign = 'left';
    ctx.fillText(legendLabels[0], a.left + tx, a.top + ly);
    ctx.fillText(legendLabels[1], a.left + tx, a.top + ly + gap);

    // x title with italic subscripted symbol
    const f = '16px ' + FONT, fi = 'italic 16px ' + FONT, fs = 'italic 10px ' + FONT, fo = '10px ' + FONT;
    const xRuns = [['Circumferential distance (', f, 0], ['x', fi, 0], ['c', fs, 4], ['), cm', f, 0]];
    const xw = runsWidth(ctx, xRuns);
    drawRuns(ctx, xRuns, (a.left + a.right) / 2 - xw / 2, a.bottom + o.xtDy);

    // y title, rotated
    const yRuns = [['Temperature (T), ', f, 0], ['o', fo, -6], ['C', f, 0]];
    const yw = runsWidth(ctx, yRuns);
    ctx.translate(a.left + o.ytDx, (a.top + a.bottom) / 2 - 6);
    ctx.rotate(-Math.PI / 2);
    drawRuns(ctx, yRuns, -yw / 2, 0);
    ctx.restore();
  }
};

const padL = 25, yW = 45, padT = 22, padR = 16, xH = 22, padB = 30;
const tickFont = { family: FONT, size: 16, style: 'normal', weight: 'normal' };

panels.forEach((p) => {
  const [L, T, R, B] = p.box;
  const cv = document.createElement('canvas');
  const w = (R - L) + padL + yW + padR;
  const h = (B - T) + padT + xH + padB;
  cv.width = w; cv.height = h;
  cv.style.width = w + 'px'; cv.style.height = h + 'px';
  cv.style.left = (L - padL - yW) + 'px';
  cv.style.top = (T - padT) + 'px';
  document.body.appendChild(cv);

  new Chart(cv.getContext('2d'), {
    type: 'scatter',
    data: {
      datasets: [
        {
          type: 'scatter',
          label: legendLabels[1],
          data: p.pts.map(([x, y]) => ({ x, y })),
          pointRadius: 2.1,
          pointBorderWidth: 1,
          pointBorderColor: '#000',
          pointBackgroundColor: 'rgba(0,0,0,0)',
          clip: false,
          order: 0
        },
        {
          type: 'line',
          label: legendLabels[0],
          data: fitX.map((x, i) => ({ x, y: p.fit[i] })),
          borderColor: RED,
          borderWidth: 2.6,
          pointRadius: 0,
          cubicInterpolationMode: 'monotone',
          fill: false,
          order: 1
        }
      ]
    },
    options: {
      responsive: false,
      animation: false,
      devicePixelRatio: 1,
      layout: { padding: { left: padL, top: padT, right: padR, bottom: padB } },
      plugins: {
        legend: { display: false },
        tooltip: { enabled: false },
        panelDecor: { leg: p.leg, xtDy: p.xtDy, ytDx: p.ytDx }
      },
      scales: {
        x: {
          type: 'linear', min: 0, max: 27,
          afterFit: (s) => { s.height = xH; },
          afterBuildTicks: (s) => { s.ticks = xTicks.map(v => ({ value: v })); },
          grid: { display: false, drawTicks: false },
          border: { display: false },
          ticks: { color: '#000', font: tickFont, padding: 1, maxRotation: 0, autoSkip: false,
                   callback: (v) => String(v) }
        },
        y: {
          type: 'linear', min: 34.4, max: 36.4,
          afterFit: (s) => { s.width = yW; },
          afterBuildTicks: (s) => { s.ticks = yTicks.map(v => ({ value: v })); },
          grid: { display: false, drawTicks: false },
          border: { display: false },
          ticks: { color: '#000', font: tickFont, padding: 4, autoSkip: false,
                   callback: (v) => String(Math.round(v * 10) / 10) }
        }
      }
    },
    plugins: [panelDecor]
  });
});

// panel captions
captions.forEach((c, i) => {
  const d = document.createElement('div');
  d.className = 'cap';
  d.style.left = captionPos[i][0] + 'px';
  d.style.top = (captionPos[i][1] - 19) + 'px';
  const s = document.createElement('span');
  s.textContent = captionLetters[i];
  d.appendChild(s);
  d.appendChild(document.createTextNode(c));
  document.body.appendChild(d);
});
</script>
</body>
</html>
